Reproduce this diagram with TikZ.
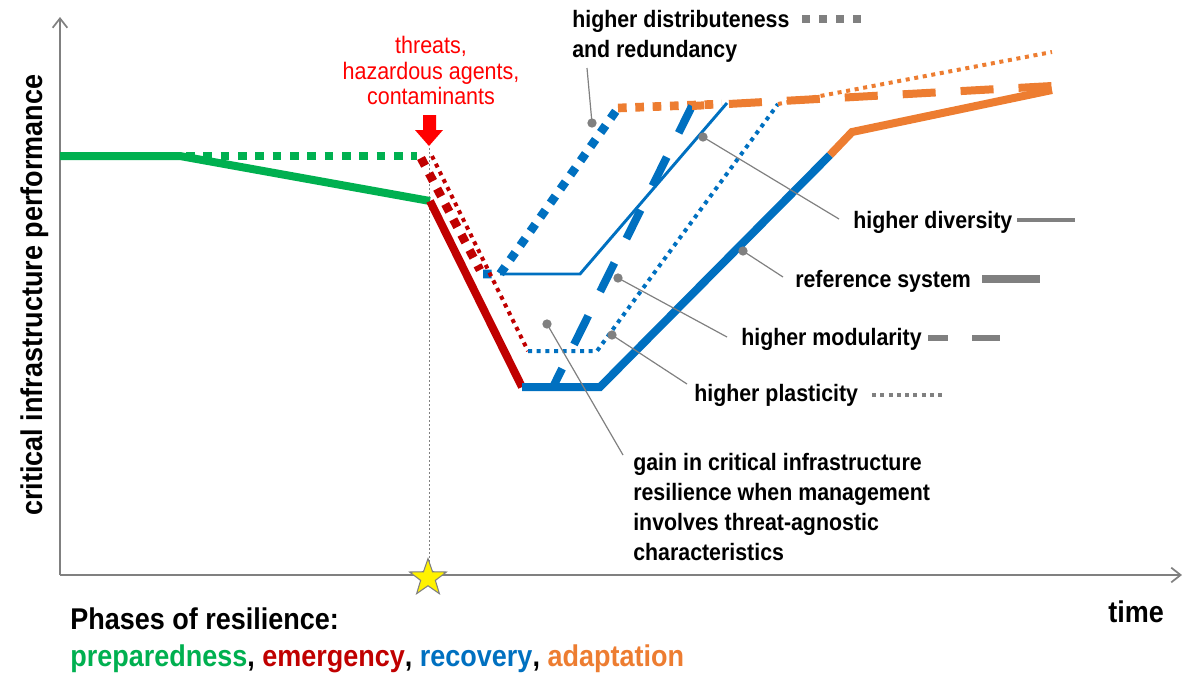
\documentclass[tikz,border=0pt]{standalone}
\usepackage{fontspec}
\newfontfamily\nar[FakeStretch=0.9]{Liberation Sans}
\usetikzlibrary{arrows.meta,shapes.geometric}
\definecolor{cgreen}{HTML}{00B050}
\definecolor{cred}{HTML}{C00000}
\definecolor{cblue}{HTML}{0070C0}
\definecolor{corange}{HTML}{ED7D31}
\definecolor{cgray}{HTML}{808080}
\definecolor{tred}{HTML}{FF0000}
\begin{document}
\begin{tikzpicture}[x=0.75pt,y=-0.75pt,
  refline/.style={line width=6pt},
  bigdot/.style={line width=6.5pt, dash pattern=on 6.5pt off 6.5pt},
  divline/.style={line width=2.2pt},
  modline/.style={line width=6pt, dash pattern=on 24pt off 20.25pt},
  plasline/.style={line width=3pt, dash pattern=on 3pt off 3.5pt},
  callout/.style={draw=cgray, line width=0.9pt},
  calldot/.style={circle, fill=cgray, inner sep=0pt, minimum size=7pt},
  lab/.style={font=\nar\bfseries\fontsize{17.8}{21}\selectfont, inner sep=0pt, anchor=base west},
  redlab/.style={font=\nar\fontsize{17.9}{21}\selectfont, text=tred, inner sep=0pt, anchor=base},
  biglab/.style={font=\nar\bfseries\fontsize{22.5}{27}\selectfont, inner sep=0pt},
  axis/.style={draw=cgray, line width=1.3pt, -{Straight Barb[length=7pt,width=11pt]}}
]
\useasboundingbox (0,0) rectangle (1183,676);

% axes
\coordinate (O) at (60,575);
\coordinate (Ytop) at (60,17);
\coordinate (Xend) at (1182,575);
\draw[axis] (O) -- (Ytop);
\draw[axis] (O) -- (Xend);

% vertical dotted event line
\coordinate (Ev1) at (429,148);
\coordinate (Ev2) at (429,562);
\draw[cgray, line width=0.7pt, dash pattern=on 1.5pt off 1.5pt] (Ev1) -- (Ev2);

% star
\node[star, star points=5, star point ratio=2.5, minimum size=29pt, inner sep=0pt,
      fill=yellow, draw=cgray, line width=0.8pt] (star) at (428,578) {};

% red arrow
\fill[tred] (423,115) -- (436,115) -- (436,130) -- (443,130) -- (429,146) -- (415,130) -- (423,130) -- cycle;

% ---------- reference system ----------
\coordinate (r0) at (60,156);
\coordinate (r1) at (180,156);
\coordinate (r2) at (430,201);
\coordinate (r3) at (522,387);
\coordinate (r4) at (600,387);
\coordinate (r5) at (830,155);
\coordinate (r6) at (852,132);
\coordinate (r7) at (1052,90);
\draw[refline, cgreen] (r0) -- (r1) -- (r2);
\draw[refline, cred] (r2) -- (r3);
\draw[refline, cblue] (r3) -- (r4) -- (r5);
\draw[refline, corange] (r5) -- (r6) -- (r7);

% ---------- distributeness & redundancy ----------
\coordinate (d0) at (186,156);
\coordinate (d1) at (417,156);
\coordinate (d2) at (421,158);
\coordinate (d3) at (480,270);
\coordinate (d4) at (483,274);
\coordinate (d5) at (500,274);
\coordinate (d6) at (618,108);
\coordinate (d7) at (722,104);
\draw[bigdot, cgreen] (d0) -- (d1);
\draw[bigdot, cred] (d2) -- (d3);
\draw[bigdot, cblue] (d4) -- (d5) -- (d6);
\draw[bigdot, corange] (d6) -- (d7);

% ---------- diversity ----------
\coordinate (v0) at (500,274);
\coordinate (v1) at (580,274);
\coordinate (v2) at (727,103);
\draw[divline, cblue] (v0) -- (v1) -- (v2);

% ---------- modularity ----------
\coordinate (m0) at (553,387);
\coordinate (m1) at (692,106);
\coordinate (m2) at (1052,86);
\draw[line width=6pt, cblue, dash pattern=on 24pt off 20.25pt, dash phase=1.5pt] (m1) -- (m0);
\draw[line width=6pt, corange, dash pattern=on 24.75pt off 18.75pt, dash phase=15.75pt] (m1) -- (m2);

% ---------- plasticity ----------
\coordinate (p0) at (432,156);
\coordinate (p1) at (528,351);
\coordinate (p2) at (597,351);
\coordinate (p3) at (778,104);
\coordinate (p4) at (1052,52);
\draw[plasline, cred] (p0) -- (p1);
\draw[plasline, cblue] (p1) -- (p2) -- (p3);
\draw[plasline, corange] (p3) -- (p4);

% ---------- callouts ----------
\node[calldot] (cd1) at (592,123) {};
\coordinate (ce1) at (587,68);
\draw[callout] (cd1.center) -- (ce1);
\node[calldot] (cd2) at (703,137) {};
\coordinate (ce2) at (839,219);
\draw[callout] (cd2.center) -- (ce2);
\node[calldot] (cd3) at (743,251) {};
\coordinate (ce3) at (783,277);
\draw[callout] (cd3.center) -- (ce3);
\node[calldot] (cd4) at (618,278) {};
\coordinate (ce4) at (727,337);
\draw[callout] (cd4.center) -- (ce4);
\node[calldot] (cd5) at (612,335) {};
\coordinate (ce5) at (687,384);
\draw[callout] (cd5.center) -- (ce5);
\node[calldot] (cd6) at (547,324) {};
\coordinate (ce6) at (623,455);
\draw[callout] (cd6.center) -- (ce6);

% ---------- labels ----------
\node[lab] (L1a) at (572,27) {higher distributeness};
\node[lab] (L1b) at (572,57) {and redundancy};
\node[lab] (L2) at (853,228) {higher diversity};
\node[lab] (L3) at (795,287) {reference system};
\node[lab] (L4) at (741,345) {higher modularity};
\node[lab] (L5) at (694,401) {higher plasticity};
\node[lab] (G1) at (633,470) {gain in critical infrastructure};
\node[lab] (G2) at (633,500) {resilience when management};
\node[lab] (G3) at (633,530) {involves threat-agnostic};
\node[lab] (G4) at (633,560) {characteristics};

% legend samples
\coordinate (s1a) at (802,19);  \coordinate (s1b) at (862,19);
\draw[cgray, line width=6pt, dash pattern=on 6pt off 6.75pt] (s1a) -- (s1b);
\coordinate (s2a) at (1017,220); \coordinate (s2b) at (1075,220);
\draw[cgray, line width=2.4pt] (s2a) -- (s2b);
\coordinate (s3a) at (982,279); \coordinate (s3b) at (1040,279);
\draw[cgray, line width=6pt] (s3a) -- (s3b);
\coordinate (s4a) at (928,338); \coordinate (s4b) at (1001,338);
\draw[cgray, line width=5.2pt, dash pattern=on 15pt off 18pt on 21pt off 10pt] (s4a) -- (s4b);
\coordinate (s5a) at (872,395); \coordinate (s5b) at (943,395);
\draw[cgray, line width=3pt, dash pattern=on 3pt off 3.2pt] (s5a) -- (s5b);

% red threat text
\node[redlab] (T1) at (431,53) {threats,};
\node[redlab] (T2) at (431,79) {hazardous agents,};
\node[redlab] (T3) at (431,104) {contaminants};

% axis labels
\node[biglab, rotate=90, anchor=base] (ylab) at (42,295) {critical infrastructure performance};
\node[biglab, anchor=base west] (xlab) at (1108,622) {time};
\node[biglab, anchor=base west] (ph1) at (70,629) {Phases of resilience:};
\node[biglab, anchor=base west] (ph2) at (70,666) {\textcolor{cgreen}{preparedness}, \textcolor{cred}{emergency}, \textcolor{cblue}{recovery}, \textcolor{corange}{adaptation}};
\end{tikzpicture}
\end{document}
